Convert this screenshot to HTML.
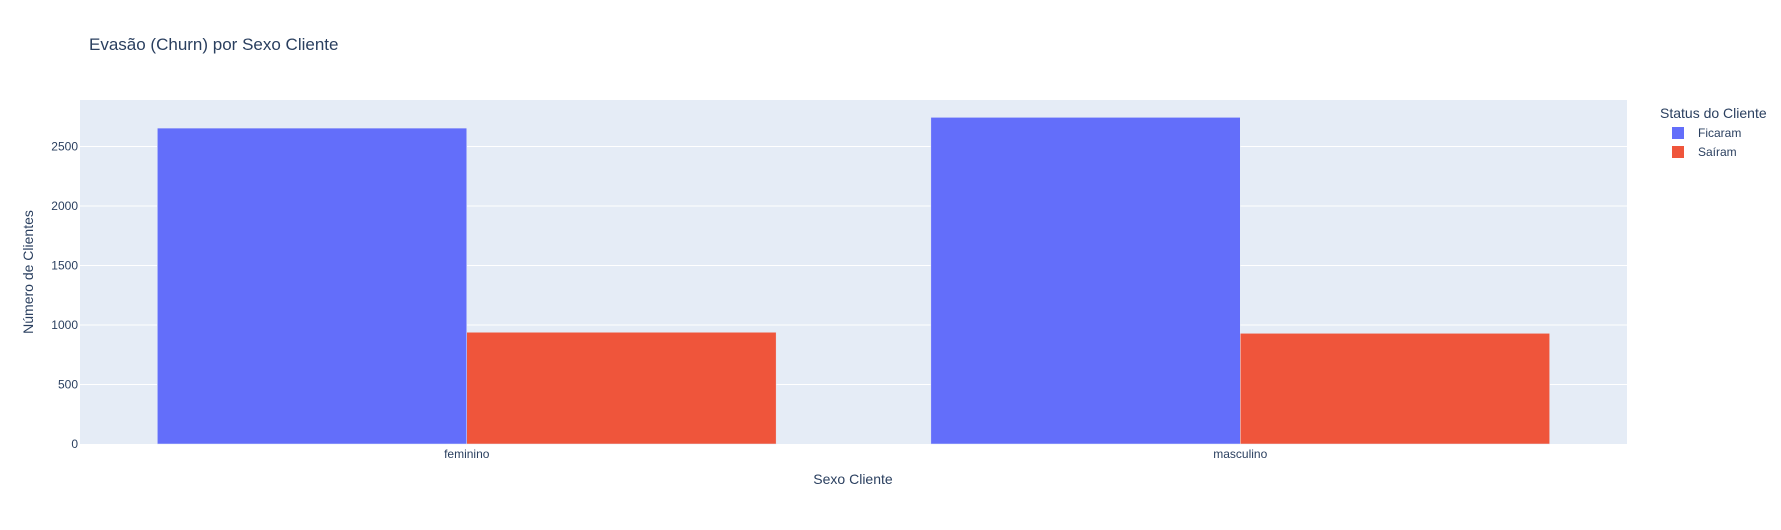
<!DOCTYPE html>
<html><head><meta charset="utf-8"><style>
body{margin:0;background:#fff;font-family:"Liberation Sans",Arial,sans-serif}
svg text{font-family:"Liberation Sans",Arial,sans-serif;fill:#2a3f5f}
</style></head><body>
<svg id="c" width="1781" height="525">
<rect x="0" y="0" width="1781" height="525" fill="#fff"/>
<text x="89" y="50" font-size="17">Evasão (Churn) por Sexo Cliente</text>
<rect x="80" y="100" width="1547" height="344" fill="#e5ecf6"/>
<g id="grid"></g><g id="bars"></g><g id="ticks"></g>
<text x="853" y="484" font-size="14" text-anchor="middle">Sexo Cliente</text>
<text transform="translate(33,272) rotate(-90)" font-size="14" text-anchor="middle">Número de Clientes</text>
<g>
<text x="1660" y="118" font-size="14">Status do Cliente</text>
<g><rect x="1672" y="127" width="12" height="12" fill="#636efa"/><text x="1698" y="137" font-size="12">Ficaram</text></g>
<g><rect x="1672" y="146" width="12" height="12" fill="#ef553b"/><text x="1698" y="156" font-size="12">Saíram</text></g>
</g>
</svg>
<script>
const categories=["feminino","masculino"];
const ficaram=[2655,2745];
const sairam=[939,930];
const yTicks=[0,500,1000,1500,2000,2500];
const NS="http://www.w3.org/2000/svg";
const X0=80,W=1547,Y0=444,YT=100,YMAX=2891;
const y=v=>Y0-(v/YMAX)*(Y0-YT);
const band=W/categories.length;
const cx=i=>X0+band*(i+0.5);
function mk(t,a,p){const e=document.createElementNS(NS,t);for(const k in a)e.setAttribute(k,a[k]);p.appendChild(e);return e;}
const g=document.getElementById('grid'),b=document.getElementById('bars'),tk=document.getElementById('ticks');
yTicks.forEach(v=>{
 if(v>0){const l=mk('line',{x1:X0,x2:X0+W,y1:y(v),y2:y(v),stroke:'#fff','stroke-width':1},g);
 
 }
 const t=mk('text',{x:X0-2,y:y(v)+4,'font-size':12,'text-anchor':'end'},tk);t.textContent=v;
 
 
});
const bw=band*0.8/2;
categories.forEach((c,i)=>{
 [[ficaram,'#636efa','ficaram'],[sairam,'#ef553b','sairam']].forEach((s,j)=>{
  const v=s[0][i];const x=cx(i)-bw+j*bw;
  const r=mk('rect',{x:x,y:y(v),width:bw,height:Y0-y(v),fill:s[1],stroke:'#e5ecf6','stroke-width':0.5},b);
  
  
 });
 const t=mk('text',{x:cx(i),y:Y0+14,'font-size':12,'text-anchor':'middle'},tk);t.textContent=c;
 
 
});
</script>
</body></html>
